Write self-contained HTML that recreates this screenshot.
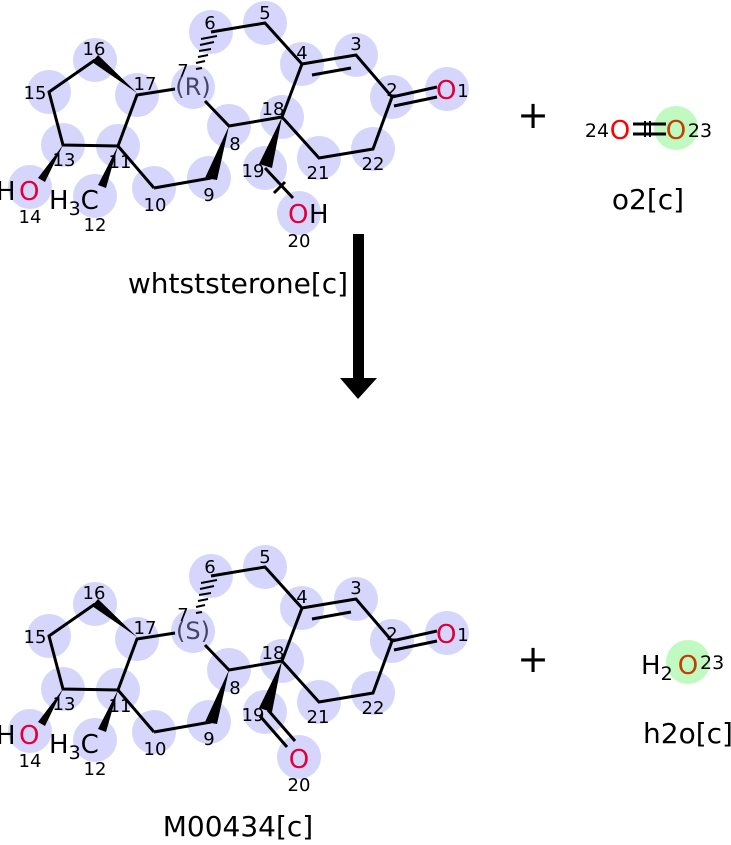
<!DOCTYPE html>
<html><head><style>
body{margin:0;background:#fff;}
svg text{font-family:"DejaVu Sans","Liberation Sans",sans-serif;}
</style></head><body>
<svg width="731" height="840" viewBox="0 0 731 840" xmlns="http://www.w3.org/2000/svg">
<defs>
<g id="hl" fill="#d6d6fc">
<circle cx="302" cy="64" r="22"/><circle cx="356" cy="55" r="22"/><circle cx="392" cy="97" r="22"/>
<circle cx="447" cy="89" r="22"/><circle cx="373" cy="149" r="22"/><circle cx="319" cy="158" r="22"/>
<circle cx="282" cy="117" r="22"/><circle cx="229" cy="126" r="22"/><circle cx="193" cy="87" r="22"/>
<circle cx="211" cy="32" r="22"/><circle cx="265" cy="23" r="22"/><circle cx="137" cy="95" r="22"/>
<circle cx="95" cy="60" r="22"/><circle cx="49" cy="92" r="22"/><circle cx="63" cy="145" r="22"/>
<circle cx="118" cy="146" r="22"/><circle cx="95" cy="196" r="22"/><circle cx="30" cy="187" r="22"/>
<circle cx="154" cy="188" r="22"/><circle cx="209" cy="178" r="22"/><circle cx="265" cy="168" r="22"/>
<circle cx="299" cy="213" r="22"/>
</g>
<g id="bonds" stroke="#000" stroke-width="3" fill="none">
<polyline points="211,32 265,23 302,64 356,55 392,97 373,149 319,158 282,117 302,64"/>
<line x1="312" y1="75" x2="351" y2="68"/>
<line x1="392" y1="97" x2="437" y2="87"/><line x1="394" y1="106" x2="437" y2="97"/>
<polyline points="282,117 229,126 205,101"/>
<polyline points="175,89 137,95 118,146 63,145 49,92 95,60"/>
<line x1="118" y1="146" x2="154" y2="188"/><polyline points="154,188 211,178"/>
</g>
<g id="wedges" fill="#000">
<polygon points="137,93 92,62 98,55"/>
<polygon points="63,145 38,178 45,182"/>
<polygon points="118,146 98,185 106,188"/>
<polygon points="229,126 205,178 217,180"/>
<polygon points="282,117 259,164 272,168"/>
<g stroke="#000" stroke-width="2">
<line x1="196" y1="69" x2="202" y2="68"/><line x1="196" y1="63" x2="205" y2="61"/>
<line x1="198" y1="57" x2="208" y2="55"/><line x1="199" y1="51" x2="211" y2="49"/>
<line x1="200" y1="45" x2="214" y2="42"/><line x1="201" y1="39" x2="217" y2="36"/></g>
</g>
<g id="nums" font-size="18" fill="#000" text-anchor="middle">
<text x="302" y="59">4</text><text x="356" y="50">3</text><text x="392" y="96">2</text>
<text x="463" y="97">1</text><text x="373" y="170">22</text><text x="318" y="179">21</text>
<text x="273" y="115">18</text><text x="235" y="150">8</text><text x="183" y="77">7</text>
<text x="210" y="29">6</text><text x="265" y="19">5</text><text x="145" y="90">17</text>
<text x="94" y="55">16</text><text x="35" y="99">15</text><text x="64" y="166">13</text>
<text x="120" y="168">11</text><text x="95" y="231">12</text><text x="30" y="223">14</text>
<text x="155" y="211">10</text><text x="209" y="201">9</text><text x="253" y="177">19</text>
</g>
<g id="atoms" font-size="26">
<text x="436" y="99" fill="#e0003c">O</text>
<text x="-4" y="200" fill="#000">H</text><text x="19" y="200" fill="#e0003c">O</text>
<text x="49" y="209" fill="#000">H<tspan font-size="19" dy="6">3</tspan><tspan dy="-6">C</tspan></text>
</g>
</defs>

<use href="#hl"/><use href="#bonds"/><use href="#wedges"/><use href="#nums"/><use href="#atoms"/>
<text x="193" y="95" font-size="24" fill="#444466" text-anchor="middle">(R)</text>
<line x1="265" y1="168" x2="293" y2="198" stroke="#000" stroke-width="3"/>
<line x1="274" y1="193" x2="285" y2="182" stroke="#000" stroke-width="3"/>
<text x="288" y="223" font-size="26" fill="#e0003c">O</text><text x="309" y="223" font-size="26">H</text>
<text x="299" y="247" font-size="18" text-anchor="middle">20</text>
<text x="238" y="293" font-size="28" text-anchor="middle">whtststerone[c]</text>

<rect x="353" y="234" width="11" height="148" fill="#000"/>
<polygon points="340,378 377,378 358,399" fill="#000"/>

<text x="533" y="128" font-size="38" text-anchor="middle">+</text>
<circle cx="676" cy="128" r="22" fill="#c0fac0"/>
<text x="597" y="137" font-size="19" text-anchor="middle">24</text>
<text x="620" y="139" font-size="26" fill="#ff0000" text-anchor="middle">O</text>
<line x1="633" y1="124" x2="666" y2="124" stroke="#000" stroke-width="3"/>
<line x1="633" y1="134" x2="666" y2="134" stroke="#000" stroke-width="3"/>
<line x1="645" y1="121" x2="645" y2="137" stroke="#000" stroke-width="2"/>
<line x1="650" y1="121" x2="650" y2="137" stroke="#000" stroke-width="2"/>
<text x="676" y="139" font-size="26" fill="#c04000" text-anchor="middle">O</text>
<text x="700" y="137" font-size="19" text-anchor="middle">23</text>
<text x="648" y="209" font-size="28" text-anchor="middle">o2[c]</text>

<g transform="translate(0,544)">
<use href="#hl"/><use href="#bonds"/><use href="#wedges"/><use href="#nums"/><use href="#atoms"/>
<text x="193" y="95" font-size="24" fill="#444466" text-anchor="middle">(S)</text>
<line x1="260" y1="172" x2="287" y2="203" stroke="#000" stroke-width="3"/>
<line x1="268" y1="166" x2="295" y2="197" stroke="#000" stroke-width="3"/>
<text x="299" y="224" font-size="26" fill="#e0003c" text-anchor="middle">O</text>
<text x="299" y="247" font-size="18" text-anchor="middle">20</text>
</g>
<text x="238" y="836" font-size="28" text-anchor="middle">M00434[c]</text>

<text x="533" y="672" font-size="38" text-anchor="middle">+</text>
<circle cx="688" cy="662" r="22" fill="#c0fac0"/>
<text x="641" y="674" font-size="26">H<tspan font-size="19" dy="6">2</tspan></text>
<text x="688" y="674" font-size="26" fill="#c04000" text-anchor="middle">O</text>
<text x="700" y="669" font-size="19">23</text>
<text x="688" y="743" font-size="28" text-anchor="middle">h2o[c]</text>
</svg>
</body></html>
